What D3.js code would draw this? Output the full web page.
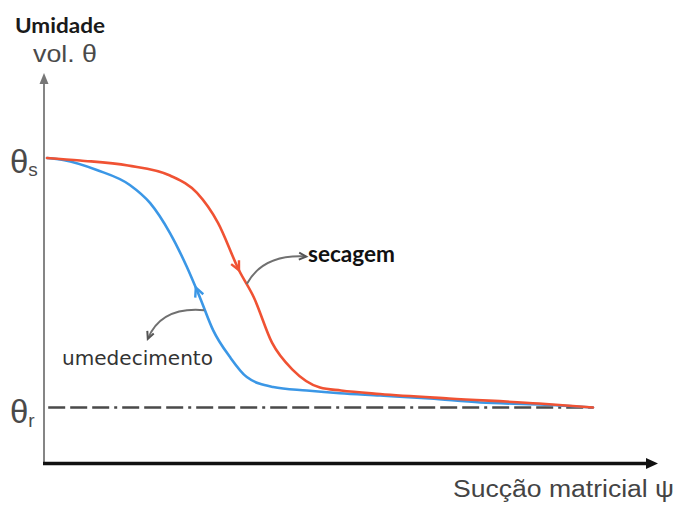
<!DOCTYPE html>
<html>
<head>
<meta charset="utf-8">
<script src="https://cdn.jsdelivr.net/npm/d3@7"></script>
<style>
  body { margin: 0; background: #fff; }
  svg { display: block; }
</style>
</head>
<body>
<div id="chart"></div>
<script>
// curvas de retenção (sucção normalizada 0-100, umidade normalizada 0 = θr, 1 = θs)
var secagemX = [0.5, 6, 14, 21, 25.5, 29, 32.5, 35, 38, 41.5, 46, 49.5, 56, 67.5, 82.5, 91.5];
var secagemY = [1.0, 0.99, 0.97, 0.93, 0.86, 0.74, 0.55, 0.44, 0.26, 0.15, 0.08, 0.068, 0.054, 0.036, 0.016, 0.0];

var umedX = [0.5, 3.2, 8.8, 14.3, 17.7, 21, 23.8, 26, 28.2, 31, 33.8, 38.2, 43.8, 49.3, 56, 64.3, 72.7, 82.7, 91.5];
var umedY = [1.0, 0.992, 0.952, 0.892, 0.819, 0.699, 0.564, 0.44, 0.309, 0.202, 0.122, 0.082, 0.068, 0.057, 0.048, 0.036, 0.020, 0.012, 0.0];

var residualY = 0;   // θr
var saturadoY = 1;   // θs
var residualEnd = 91.5;

// setas de direção sobre as curvas (posição em x)
var secagemArrowAt = 32.5;
var umedArrowAt = 25.3;

var width = 679, height = 505;

var x = d3.scaleLinear().domain([0, 100]).range([44, 644]);
var y = d3.scaleLinear().domain([0, 1]).range([407.5, 158]);

var svg = d3.select("#chart").append("svg")
    .attr("width", width)
    .attr("height", height);

function arrowHead(g, tip, angle, color, len, w) {
    var a1 = angle + Math.PI - 0.45, a2 = angle + Math.PI + 0.45;
    g.append("path")
        .attr("d", "M" + (tip[0] + len * Math.cos(a1)) + "," + (tip[1] + len * Math.sin(a1)) +
            "L" + tip[0] + "," + tip[1] +
            "L" + (tip[0] + len * Math.cos(a2)) + "," + (tip[1] + len * Math.sin(a2)))
        .attr("fill", "none")
        .attr("stroke", color)
        .attr("stroke-width", w)
        .attr("stroke-linejoin", "miter");
}

// eixos
svg.append("line")
    .attr("x1", x(0)).attr("x2", x(0))
    .attr("y1", 464).attr("y2", 79)
    .attr("stroke", "#858585").attr("stroke-width", 2);
svg.append("path")
    .attr("d", "M" + x(0) + ",73 L" + (x(0) - 4.5) + ",84 L" + (x(0) + 4.5) + ",84 Z")
    .attr("fill", "#777");

svg.append("line")
    .attr("x1", x(0) - 1).attr("x2", 650)
    .attr("y1", 463.5).attr("y2", 463.5)
    .attr("stroke", "#111").attr("stroke-width", 3.5);
svg.append("path")
    .attr("d", "M658,463.5 L646,458 L646,469 Z")
    .attr("fill", "#111");

// linha θr
svg.append("line")
    .attr("x1", x(0.7)).attr("x2", x(residualEnd))
    .attr("y1", y(residualY)).attr("y2", y(residualY))
    .attr("stroke", "#4a4a4a").attr("stroke-width", 2.5)
    .attr("stroke-dasharray", "17,5,17,5,17,5,3,5");

var line = d3.line()
    .x(function(d) { return x(d[0]); })
    .y(function(d) { return y(d[1]); })
    .curve(d3.curveMonotoneX);

function drawCurve(xs, ys, color) {
    var pts = xs.map(function(v, i) { return [v, ys[i]]; });
    return svg.append("path")
        .datum(pts)
        .attr("d", line)
        .attr("fill", "none")
        .attr("stroke", color)
        .attr("stroke-width", 2.6)
        .attr("stroke-linecap", "round");
}

function pointAtX(path, px) {
    var node = path.node(), lo = 0, hi = node.getTotalLength();
    for (var i = 0; i < 40; i++) {
        var mid = (lo + hi) / 2;
        if (node.getPointAtLength(mid).x < px) lo = mid; else hi = mid;
    }
    return lo;
}

function curveArrow(path, atX, color, forward) {
    var node = path.node();
    var L = pointAtX(path, x(atX));
    var p = node.getPointAtLength(L);
    var q = node.getPointAtLength(forward ? L - 3 : L + 3);
    var ang = Math.atan2(p.y - q.y, p.x - q.x);
    arrowHead(svg, [p.x, p.y], ang, color, 10, 2.4);
}

var umedPath = drawCurve(umedX, umedY, "#3b97e6");
var secPath = drawCurve(secagemX, secagemY, "#f05233");

curveArrow(secPath, secagemArrowAt, "#f05233", true);
curveArrow(umedPath, umedArrowAt, "#3b97e6", false);

// anotações
function annot(from, ctrl, to) {
    var s = [x(from[0]), y(from[1])], c = [x(ctrl[0]), y(ctrl[1])], t = [x(to[0]), y(to[1])];
    svg.append("path")
        .attr("d", "M" + s + "Q" + c + " " + t)
        .attr("fill", "none")
        .attr("stroke", "#707070")
        .attr("stroke-width", 2);
    arrowHead(svg, t, Math.atan2(t[1] - c[1], t[0] - c[0]), "#555", 8, 2);
}
annot([33.8, 0.495], [36.5, 0.615], [43.7, 0.605]);
annot([26.7, 0.39], [19.5, 0.405], [17.3, 0.275]);

// textos
svg.append("text")
    .attr("x", 15).attr("y", 33)
    .attr("font-family", "Lato, 'Open Sans', sans-serif")
    .attr("font-weight", "bold")
    .attr("font-size", 21)
    .attr("fill", "#1a1a1a")
    .attr("textLength", 90)
    .attr("lengthAdjust", "spacingAndGlyphs")
    .text("Umidade");

svg.append("text")
    .attr("x", 33).attr("y", 62)
    .attr("font-family", "'Liberation Sans', Arial, sans-serif")
    .attr("font-size", 24)
    .attr("fill", "#4a4a4a")
    .attr("textLength", 64)
    .attr("lengthAdjust", "spacingAndGlyphs")
    .text("vol. θ");

function thetaLabel(val, sub, subDy) {
    var t = svg.append("text")
        .attr("x", 10).attr("y", y(val) + 15)
        .attr("font-family", "'Liberation Sans', Arial, sans-serif")
        .attr("fill", "#4a4a4a");
    t.append("tspan").attr("font-size", 33).text("θ");
    t.append("tspan").attr("font-size", 19).attr("dy", subDy).text(sub);
}
thetaLabel(saturadoY, "s", 3);
thetaLabel(residualY, "r", 4);

svg.append("text")
    .attr("x", 308).attr("y", 262)
    .attr("font-family", "Lato, 'Open Sans', sans-serif")
    .attr("font-weight", "bold")
    .attr("font-size", 22)
    .attr("fill", "#111")
    .attr("textLength", 87)
    .attr("lengthAdjust", "spacingAndGlyphs")
    .text("secagem");

svg.append("text")
    .attr("x", 62).attr("y", 365)
    .attr("font-family", "'DejaVu Sans', sans-serif")
    .attr("font-size", 20)
    .attr("fill", "#333")
    .attr("textLength", 151)
    .attr("lengthAdjust", "spacingAndGlyphs")
    .text("umedecimento");

svg.append("text")
    .attr("x", 453).attr("y", 497)
    .attr("font-family", "'Liberation Sans', Arial, sans-serif")
    .attr("font-size", 23)
    .attr("fill", "#444")
    .attr("textLength", 221)
    .attr("lengthAdjust", "spacingAndGlyphs")
    .text("Sucção matricial  ψ");
</script>
</body>
</html>
